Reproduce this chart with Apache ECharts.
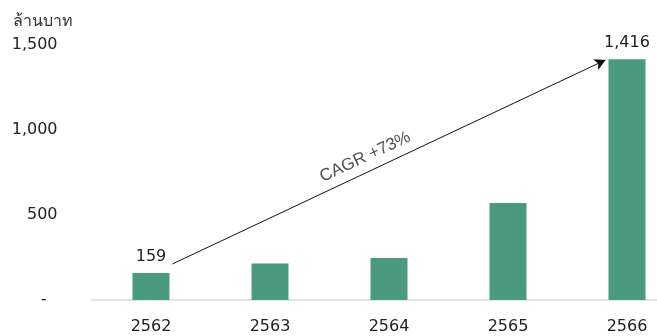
<!DOCTYPE html>
<html><head><meta charset="utf-8">
<script src="https://cdn.jsdelivr.net/npm/echarts@6/dist/echarts.min.js"></script>
<style>html,body{margin:0;padding:0;background:#fff}#c{width:657px;height:336px}</style>
</head><body><div id="c"></div>
<script>
const years = ['2562','2563','2564','2565','2566'];
const revenue = [159, 214, 247, 570, 1416];
const labelled = [true, false, false, false, true];
const yTicks = [0, 500, 1000, 1500];
const unitTitle = 'ล้านบาท';
const cagrText = 'CAGR +73%';
// arrow annotation endpoints in data space (category index, value)
const arrowStart = [0.18, 212];
const arrowEnd = [3.82, 1412];
const cagrPos = [1.8, 841];

const font = 'DejaVu Sans, Liberation Sans, Noto Sans, sans-serif';
const chart = echarts.init(document.getElementById('c'));
chart.setOption({
  backgroundColor: '#ffffff',
  animation: false,
  title: { text: unitTitle, left: 8, top: 9, textStyle: { fontFamily: font, fontSize: 16, fontWeight: 'normal', color: '#333' } },
  grid: { left: 91.5, width: 595, top: 45, bottom: 36, containLabel: false, outerBoundsMode: 'none' },
  xAxis: [{
    type: 'category', data: years,
    axisLine: { lineStyle: { color: '#dcdcdc', width: 1.5 } },
    axisTick: { show: false },
    axisLabel: { fontFamily: font, fontSize: 16, color: '#222', margin: 19 }
  }, {
    type: 'value', min: -0.5, max: 4.5, show: false
  }],
  yAxis: {
    type: 'value', min: yTicks[0], max: yTicks[yTicks.length - 1], interval: 500,
    axisLine: { show: false }, axisTick: { show: false }, splitLine: { show: false },
    axisLabel: {
      fontFamily: font, fontSize: 16, color: '#222', margin: 34,
      formatter: v => v === 0 ? '{z|-}' : v.toLocaleString('en-US'),
      rich: { z: { fontFamily: font, fontSize: 16, color: '#222', padding: [0, 11, 0, 0] } }
    }
  },
  series: [{
    type: 'bar', barWidth: 37,
    data: revenue.map((v, i) => ({
      value: v,
      label: { show: labelled[i], position: 'top', distance: 8, fontFamily: font, fontSize: 16, color: '#222',
        formatter: p => p.value.toLocaleString('en-US') }
    })),
    itemStyle: { color: '#4a9a80' }
  }, {
    type: 'line', xAxisIndex: 1, data: [], silent: true,
    markLine: {
      silent: true, symbol: ['none', 'arrow'], symbolSize: [9, 11],
      lineStyle: { color: '#111', width: 1, type: 'solid' },
      label: { show: false },
      data: [[{ coord: arrowStart }, { coord: arrowEnd }]]
    }
  }, {
    type: 'scatter', xAxisIndex: 1, symbolSize: 0, silent: true,
    data: [cagrPos],
    label: { show: true, position: 'inside', rotate: 25, formatter: cagrText, fontFamily: 'Liberation Sans, Arial, sans-serif', fontSize: 17, color: '#222' }
  }]
});
</script></body></html>
